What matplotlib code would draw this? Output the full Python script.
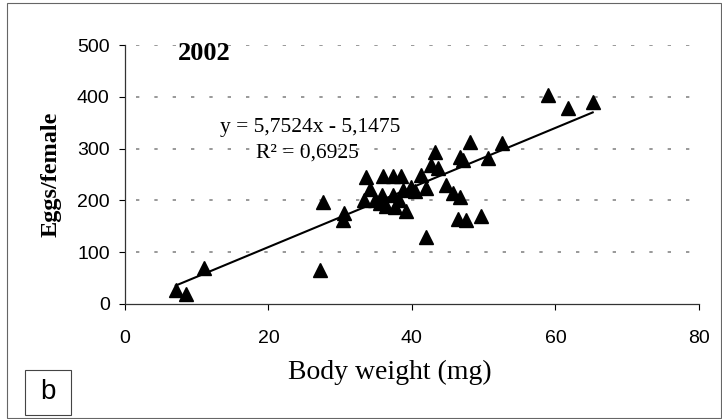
import numpy as np
import matplotlib.pyplot as plt
from matplotlib.patches import Rectangle

# body weight (mg) and eggs per female, 2002
weight = [7.1, 8.5, 11.0, 27.2, 27.6, 30.6, 30.4,
          33.6, 36.0, 37.4, 38.5, 41.3,
          34.1, 33.3, 35.8, 37.4, 38.8, 39.9,
          36.4, 37.6, 39.2, 34.8, 35.5, 38.2, 40.5,
          42.0, 48.1, 52.5, 43.2, 46.7, 47.1, 50.6, 42.7, 43.6,
          42.0, 44.8, 45.7, 46.7, 46.4, 47.6, 49.7,
          59.0, 61.7, 65.2]
eggs = [27, 19, 69, 66, 197, 175, 163,
        246, 247, 247, 248, 249,
        222, 201, 210, 210, 220, 226,
        190, 187, 180, 200, 195, 200, 218,
        130, 313, 310, 294, 284, 278, 281, 268, 262,
        223, 230, 214, 207, 165, 162, 169,
        403, 378, 390]

slope = 5.7524
intercept = -5.1475
r2 = 0.6925

serif = "Liberation Serif"
sans = "Liberation Sans"

fig = plt.figure(figsize=(7.22, 4.19), dpi=100)
ax = fig.add_axes([0.173, 0.2745, 0.795, 0.618])

ax.plot(weight, eggs, linestyle="none", marker="^", ms=10.5, color="black")
xx = np.array([min(weight), max(weight)])
ax.plot(xx, slope * xx + intercept, color="black", lw=1.5)

ax.set_xlim(0, 80)
ax.set_ylim(0, 500)
ax.set_xticks([0, 20, 40, 60, 80])
ax.set_yticks([0, 100, 200, 300, 400, 500])
for yv in [100, 200, 300, 400, 500]:
    ax.plot([1.5, 79], [yv, yv], color="#888888", lw=1.2, linestyle=(0, (2, 9)), zorder=0)

for s in ["top", "right"]:
    ax.spines[s].set_visible(False)
for s in ["left", "bottom"]:
    ax.spines[s].set_color("#333333")
    ax.spines[s].set_linewidth(0.9)

ax.tick_params(axis="x", direction="out", length=4, pad=15, labelsize=14, labelfontfamily=sans)
ax.tick_params(axis="y", direction="out", length=4, pad=7, labelsize=14, labelfontfamily=sans)

ax.set_xlabel("Body weight (mg)", fontsize=20, fontfamily=serif)
ax.xaxis.set_label_coords(0.462, -0.214)
ax.set_ylabel("Eggs/female", fontsize=17.5, fontfamily=serif, fontweight="bold")
ax.yaxis.set_label_coords(-0.111, 0.5)

ax.text(7.4, 484, "2002", fontsize=19, fontweight="bold", fontfamily=serif,
        ha="left", va="center")
ax.text(25.8, 340, "y = 5,7524x - 5,1475", fontsize=15.5, fontfamily=serif,
        ha="center", va="center")
ax.text(25.5, 291, "R² = 0,6925", fontsize=15.5, fontfamily=serif,
        ha="center", va="center")

# panel border and letter box
fig.patches.append(Rectangle((7 / 722, 1 / 419), 714 / 722, 415 / 419, transform=fig.transFigure,
                             fill=False, edgecolor="#666666", lw=0.8))
fig.patches.append(Rectangle((25 / 722, 4 / 419), 46 / 722, 45 / 419, transform=fig.transFigure,
                             fill=False, edgecolor="#444444", lw=0.8))
fig.text(48 / 722, 27 / 419, "b", fontsize=20, fontfamily=sans,
         ha="center", va="center")

fig.savefig("out.png", dpi=100)
